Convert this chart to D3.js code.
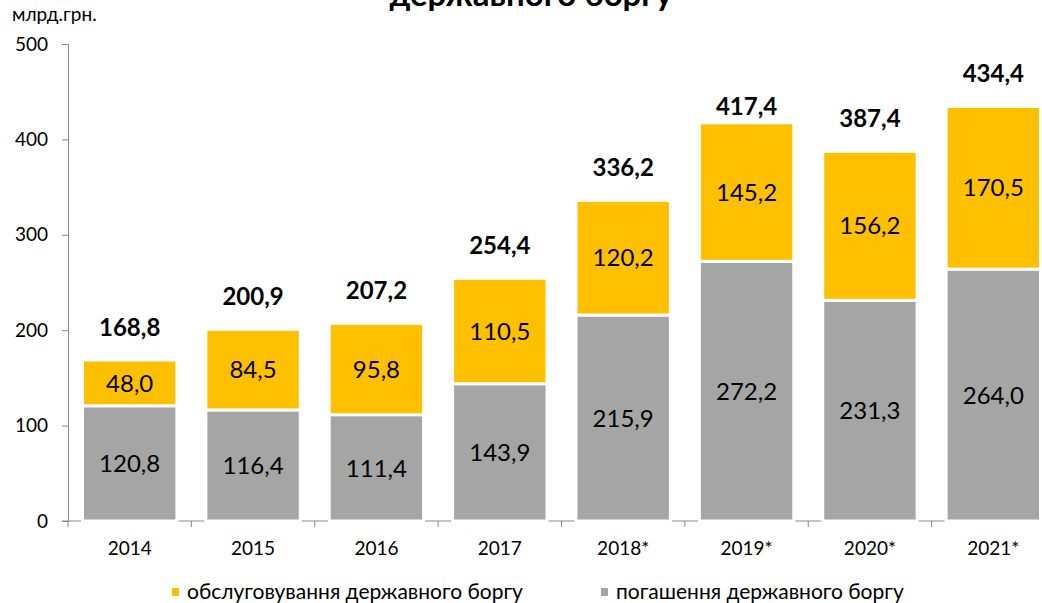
<!DOCTYPE html>
<html>
<head>
<meta charset="utf-8">
<script src="https://cdn.jsdelivr.net/npm/d3@7"></script>
<style>
  body { margin: 0; background: #fff; }
  text { font-family: Lato, "Open Sans", sans-serif; fill: #000; }
</style>
</head>
<body>
<script>
// дані
var years = ["2014", "2015", "2016", "2017", "2018*", "2019*", "2020*", "2021*"];
var repayment = [120.8, 116.4, 111.4, 143.9, 215.9, 272.2, 231.3, 264.0];
var service = [48.0, 84.5, 95.8, 110.5, 120.2, 145.2, 156.2, 170.5];
var totals = [168.8, 200.9, 207.2, 254.4, 336.2, 417.4, 387.4, 434.4];
var yTicks = [0, 100, 200, 300, 400, 500];
var seriesNames = ["обслуговування державного боргу", "погашення державного боргу"];

var width = 1042, height = 603;
var colYellow = "#FFC000", colGrey = "#A5A5A5";

// зсув підписів сум (у 2019 підпис стоїть ближче до стовпця)
var totalShift = {"2019*": 17};

var fmt = function(v) { return v.toFixed(1).replace(".", ","); };

var svg = d3.select("body").append("svg")
  .attr("width", width)
  .attr("height", height);

// шкали
var x = d3.scaleBand()
  .domain(years)
  .range([68, 1055])
  .paddingInner(0.235)
  .paddingOuter(0.1175);

var y = d3.scaleLinear()
  .domain([0, 500])
  .range([521, 44]);

// заголовок (обрізаний зверху)
svg.append("text")
  .attr("x", 531)
  .attr("y", 6)
  .attr("text-anchor", "middle")
  .attr("font-size", "33px")
  .attr("font-weight", "bold")
  .text("державного боргу");

svg.append("text")
  .attr("x", 12)
  .attr("y", 21)
  .attr("font-size", "19px")
  .text("млрд.грн.");

// вісь Y
var yAxis = svg.append("g")
  .attr("transform", "translate(68,0)")
  .call(d3.axisLeft(y).tickValues(yTicks).tickSize(6).tickPadding(14));
yAxis.selectAll("text").attr("font-size", "19px").attr("font-family", "Lato, sans-serif");
yAxis.selectAll("line, path").attr("stroke", "#888");

// вісь X
var step = x.step();
var xAxis = svg.append("g")
  .attr("transform", "translate(0,521)");
xAxis.append("line")
  .attr("x1", 62).attr("x2", 1055)
  .attr("stroke", "#888");
xAxis.selectAll(".tk")
  .data(years)
  .enter()
  .append("line")
  .attr("x1", function(d) { return x(d) - x.paddingOuter() * step; })
  .attr("x2", function(d) { return x(d) - x.paddingOuter() * step; })
  .attr("y1", 0).attr("y2", 6)
  .attr("stroke", "#888");
xAxis.selectAll(".lbl")
  .data(years)
  .enter()
  .append("text")
  .attr("x", function(d) { return x(d) + x.bandwidth() / 2; })
  .attr("y", 34)
  .attr("text-anchor", "middle")
  .attr("font-size", "19px")
  .text(function(d) { return d; });

// стовпці
var bars = svg.append("g");
years.forEach(function(yr, i) {
  var b0 = 0, b1 = repayment[i], b2 = repayment[i] + service[i];
  bars.append("rect")
    .attr("x", x(yr))
    .attr("y", y(b1))
    .attr("width", x.bandwidth())
    .attr("height", y(b0) - y(b1))
    .attr("fill", colGrey)
    .attr("stroke", "#fff")
    .attr("stroke-width", 3);
  bars.append("rect")
    .attr("x", x(yr))
    .attr("y", y(b2))
    .attr("width", x.bandwidth())
    .attr("height", y(b1) - y(b2))
    .attr("fill", colYellow)
    .attr("stroke", "#fff")
    .attr("stroke-width", 3);

  var cx = x(yr) + x.bandwidth() / 2;
  bars.append("text")
    .attr("x", cx)
    .attr("y", y((b0 + b1) / 2))
    .attr("dy", "0.36em")
    .attr("text-anchor", "middle")
    .attr("font-size", "24px")
    .text(fmt(repayment[i]));
  bars.append("text")
    .attr("x", cx)
    .attr("y", y((b1 + b2) / 2))
    .attr("dy", "0.36em")
    .attr("text-anchor", "middle")
    .attr("font-size", "24px")
    .text(fmt(service[i]));
  bars.append("text")
    .attr("x", cx)
    .attr("y", y(totals[i]) - 33 + (totalShift[yr] || 0))
    .attr("dy", "0.36em")
    .attr("text-anchor", "middle")
    .attr("font-size", "24px")
    .attr("font-weight", "bold")
    .text(fmt(totals[i]));
});

// легенда
var legend = [
  {name: seriesNames[0], color: colYellow, x: 172},
  {name: seriesNames[1], color: colGrey, x: 601}
];
var lg = svg.selectAll(".leg")
  .data(legend)
  .enter()
  .append("g")
  .attr("transform", function(d) { return "translate(" + d.x + ",0)"; });
lg.append("rect")
  .attr("x", 0).attr("y", 588)
  .attr("width", 7).attr("height", 8)
  .attr("fill", function(d) { return d.color; });
lg.append("text")
  .attr("x", 15)
  .attr("y", 599)
  .attr("font-size", "21px")
  .text(function(d) { return d.name; });
</script>
</body>
</html>
